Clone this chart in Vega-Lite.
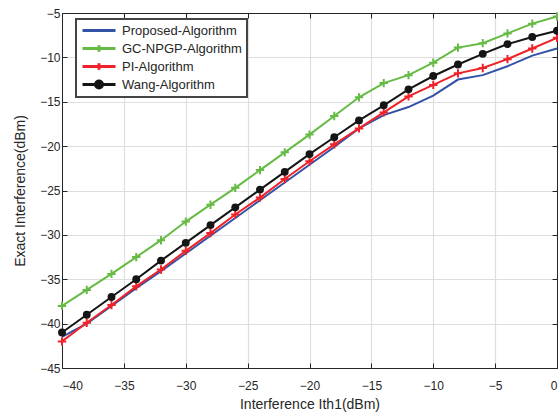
{
  "$schema": "https://vega.github.io/schema/vega-lite/v6.json",
  "width": 495,
  "height": 355,
  "autosize": {"type": "none"},
  "padding": {"left": 62, "top": 13, "right": 1, "bottom": 50},
  "background": "white",
  "config": {
    "font": "Liberation Sans",
    "view": {"stroke": "#262626", "strokeWidth": 1},
    "axis": {
      "labelFont": "Liberation Sans",
      "titleFont": "Liberation Sans",
      "labelFontSize": 12,
      "titleFontSize": 14,
      "titleFontWeight": "normal",
      "labelColor": "#262626",
      "titleColor": "#262626",
      "domainColor": "#262626",
      "tickColor": "#262626",
      "gridColor": "#dedede",
      "gridWidth": 1.2
    }
  },
  "data": {
    "values": [
      {"x": -40, "y": -41.5, "s": "Proposed-Algorithm"},
      {"x": -38, "y": -40.0, "s": "Proposed-Algorithm"},
      {"x": -36, "y": -38.0, "s": "Proposed-Algorithm"},
      {"x": -34, "y": -36.0, "s": "Proposed-Algorithm"},
      {"x": -32, "y": -34.1, "s": "Proposed-Algorithm"},
      {"x": -30, "y": -32.1, "s": "Proposed-Algorithm"},
      {"x": -28, "y": -30.1, "s": "Proposed-Algorithm"},
      {"x": -26, "y": -28.1, "s": "Proposed-Algorithm"},
      {"x": -24, "y": -26.1, "s": "Proposed-Algorithm"},
      {"x": -22, "y": -24.1, "s": "Proposed-Algorithm"},
      {"x": -20, "y": -22.1, "s": "Proposed-Algorithm"},
      {"x": -18, "y": -20.1, "s": "Proposed-Algorithm"},
      {"x": -16, "y": -18.0, "s": "Proposed-Algorithm"},
      {"x": -14, "y": -16.5, "s": "Proposed-Algorithm"},
      {"x": -12, "y": -15.6, "s": "Proposed-Algorithm"},
      {"x": -10, "y": -14.3, "s": "Proposed-Algorithm"},
      {"x": -8, "y": -12.5, "s": "Proposed-Algorithm"},
      {"x": -6, "y": -12.0, "s": "Proposed-Algorithm"},
      {"x": -4, "y": -11.0, "s": "Proposed-Algorithm"},
      {"x": -2, "y": -9.8, "s": "Proposed-Algorithm"},
      {"x": 0, "y": -9.0, "s": "Proposed-Algorithm"},
      {"x": -40, "y": -38.0, "s": "GC-NPGP-Algorithm"},
      {"x": -38, "y": -36.2, "s": "GC-NPGP-Algorithm"},
      {"x": -36, "y": -34.4, "s": "GC-NPGP-Algorithm"},
      {"x": -34, "y": -32.5, "s": "GC-NPGP-Algorithm"},
      {"x": -32, "y": -30.6, "s": "GC-NPGP-Algorithm"},
      {"x": -30, "y": -28.5, "s": "GC-NPGP-Algorithm"},
      {"x": -28, "y": -26.6, "s": "GC-NPGP-Algorithm"},
      {"x": -26, "y": -24.7, "s": "GC-NPGP-Algorithm"},
      {"x": -24, "y": -22.7, "s": "GC-NPGP-Algorithm"},
      {"x": -22, "y": -20.7, "s": "GC-NPGP-Algorithm"},
      {"x": -20, "y": -18.7, "s": "GC-NPGP-Algorithm"},
      {"x": -18, "y": -16.6, "s": "GC-NPGP-Algorithm"},
      {"x": -16, "y": -14.5, "s": "GC-NPGP-Algorithm"},
      {"x": -14, "y": -12.9, "s": "GC-NPGP-Algorithm"},
      {"x": -12, "y": -12.0, "s": "GC-NPGP-Algorithm"},
      {"x": -10, "y": -10.6, "s": "GC-NPGP-Algorithm"},
      {"x": -8, "y": -8.9, "s": "GC-NPGP-Algorithm"},
      {"x": -6, "y": -8.4, "s": "GC-NPGP-Algorithm"},
      {"x": -4, "y": -7.3, "s": "GC-NPGP-Algorithm"},
      {"x": -2, "y": -6.2, "s": "GC-NPGP-Algorithm"},
      {"x": 0, "y": -5.4, "s": "GC-NPGP-Algorithm"},
      {"x": -40, "y": -42.0, "s": "PI-Algorithm"},
      {"x": -38, "y": -39.9, "s": "PI-Algorithm"},
      {"x": -36, "y": -37.9, "s": "PI-Algorithm"},
      {"x": -34, "y": -35.8, "s": "PI-Algorithm"},
      {"x": -32, "y": -33.9, "s": "PI-Algorithm"},
      {"x": -30, "y": -31.8, "s": "PI-Algorithm"},
      {"x": -28, "y": -29.8, "s": "PI-Algorithm"},
      {"x": -26, "y": -27.7, "s": "PI-Algorithm"},
      {"x": -24, "y": -25.8, "s": "PI-Algorithm"},
      {"x": -22, "y": -23.7, "s": "PI-Algorithm"},
      {"x": -20, "y": -21.7, "s": "PI-Algorithm"},
      {"x": -18, "y": -19.8, "s": "PI-Algorithm"},
      {"x": -16, "y": -18.0, "s": "PI-Algorithm"},
      {"x": -14, "y": -16.2, "s": "PI-Algorithm"},
      {"x": -12, "y": -14.4, "s": "PI-Algorithm"},
      {"x": -10, "y": -13.1, "s": "PI-Algorithm"},
      {"x": -8, "y": -11.8, "s": "PI-Algorithm"},
      {"x": -6, "y": -11.2, "s": "PI-Algorithm"},
      {"x": -4, "y": -10.2, "s": "PI-Algorithm"},
      {"x": -2, "y": -9.0, "s": "PI-Algorithm"},
      {"x": 0, "y": -7.8, "s": "PI-Algorithm"},
      {"x": -40, "y": -41.0, "s": "Wang-Algorithm"},
      {"x": -38, "y": -39.0, "s": "Wang-Algorithm"},
      {"x": -36, "y": -37.0, "s": "Wang-Algorithm"},
      {"x": -34, "y": -35.0, "s": "Wang-Algorithm"},
      {"x": -32, "y": -32.9, "s": "Wang-Algorithm"},
      {"x": -30, "y": -30.9, "s": "Wang-Algorithm"},
      {"x": -28, "y": -28.9, "s": "Wang-Algorithm"},
      {"x": -26, "y": -26.9, "s": "Wang-Algorithm"},
      {"x": -24, "y": -24.9, "s": "Wang-Algorithm"},
      {"x": -22, "y": -22.9, "s": "Wang-Algorithm"},
      {"x": -20, "y": -20.9, "s": "Wang-Algorithm"},
      {"x": -18, "y": -19.0, "s": "Wang-Algorithm"},
      {"x": -16, "y": -17.1, "s": "Wang-Algorithm"},
      {"x": -14, "y": -15.4, "s": "Wang-Algorithm"},
      {"x": -12, "y": -13.6, "s": "Wang-Algorithm"},
      {"x": -10, "y": -12.1, "s": "Wang-Algorithm"},
      {"x": -8, "y": -10.8, "s": "Wang-Algorithm"},
      {"x": -6, "y": -9.6, "s": "Wang-Algorithm"},
      {"x": -4, "y": -8.5, "s": "Wang-Algorithm"},
      {"x": -2, "y": -7.7, "s": "Wang-Algorithm"},
      {"x": 0, "y": -7.0, "s": "Wang-Algorithm"}
    ]
  },
  "resolve": {"axis": {"x": "independent", "y": "independent"}},
  "layer": [
    {
      "mark": {"type": "line", "strokeWidth": 2},
      "encoding": {
        "x": {
          "field": "x", "type": "quantitative",
          "scale": {"domain": [-40, 0], "nice": false, "zero": false},
          "axis": {"values": [-40, -35, -30, -25, -20, -15, -10, -5, 0], "title": "Interference Ith1(dBm)", "tickSize": -5, "labelPadding": 17, "titlePadding": 6, "domain": true}
        },
        "y": {
          "field": "y", "type": "quantitative",
          "scale": {"domain": [-45, -5], "nice": false, "zero": false},
          "axis": {"values": [-45, -40, -35, -30, -25, -20, -15, -10, -5], "title": "Exact Interference(dBm)", "tickSize": -5, "labelPadding": 7, "titlePadding": 12}
        },
        "color": {
          "field": "s", "type": "nominal",
          "scale": {
            "domain": ["Proposed-Algorithm", "GC-NPGP-Algorithm", "PI-Algorithm", "Wang-Algorithm"],
            "range": ["#3352a6", "#66bb44", "#ee2228", "#151515"]
          },
          "legend": {
            "title": null,
            "orient": "none",
            "legendX": 14,
            "legendY": 6,
            "strokeColor": "#444444",
            "fillColor": "white",
            "padding": 5,
            "labelFont": "Liberation Sans",
            "labelFontSize": 13,
            "labelColor": "#262626",
            "symbolSize": 100,
            "symbolStrokeWidth": 3,
            "labelOffset": 28,
            "rowPadding": 4,
            "clipHeight": 13,
            "encode": {
              "legend": {"update": {"strokeWidth": {"value": 2}}},
              "symbols": {
                "update": {
                  "shape": {"signal": "datum.value === 'Proposed-Algorithm' ? 'M-1,0H5.6' : (datum.value === 'Wang-Algorithm' ? 'M-1,0H5.6M3.0,0A0.7,0.7,0,1,1,1.6,0A0.7,0.7,0,1,1,3.0,0' : 'M-1,0H5.6M2.3,-0.65V0.65')"},
                  "fill": {"signal": "datum.value === 'Wang-Algorithm' ? '#151515' : 'transparent'"},
                  "strokeWidth": {"value": 3}
                }
              }
            }
          }
        },
        "order": {"field": "x", "type": "quantitative"}
      }
    },
    {
      "transform": [{"filter": "datum.s === 'GC-NPGP-Algorithm' || datum.s === 'PI-Algorithm'"}],
      "mark": {"type": "point", "shape": "M-1,0H1M0,-1V1", "filled": false, "size": 70, "strokeWidth": 2, "opacity": 1},
      "encoding": {
        "x": {"field": "x", "type": "quantitative", "axis": {"orient": "top", "labels": false, "title": null, "grid": false, "tickSize": -5, "values": [-40, -35, -30, -25, -20, -15, -10, -5, 0]}},
        "y": {"field": "y", "type": "quantitative", "axis": {"orient": "right", "labels": false, "title": null, "grid": false, "tickSize": -5, "values": [-45, -40, -35, -30, -25, -20, -15, -10, -5]}},
        "color": {"field": "s", "type": "nominal", "legend": null}
      }
    },
    {
      "transform": [{"filter": "datum.s === 'Wang-Algorithm'"}],
      "mark": {"type": "point", "shape": "circle", "filled": true, "size": 62, "opacity": 1},
      "encoding": {
        "x": {"field": "x", "type": "quantitative", "axis": null},
        "y": {"field": "y", "type": "quantitative", "axis": null},
        "color": {"field": "s", "type": "nominal", "legend": null}
      }
    }
  ]
}
